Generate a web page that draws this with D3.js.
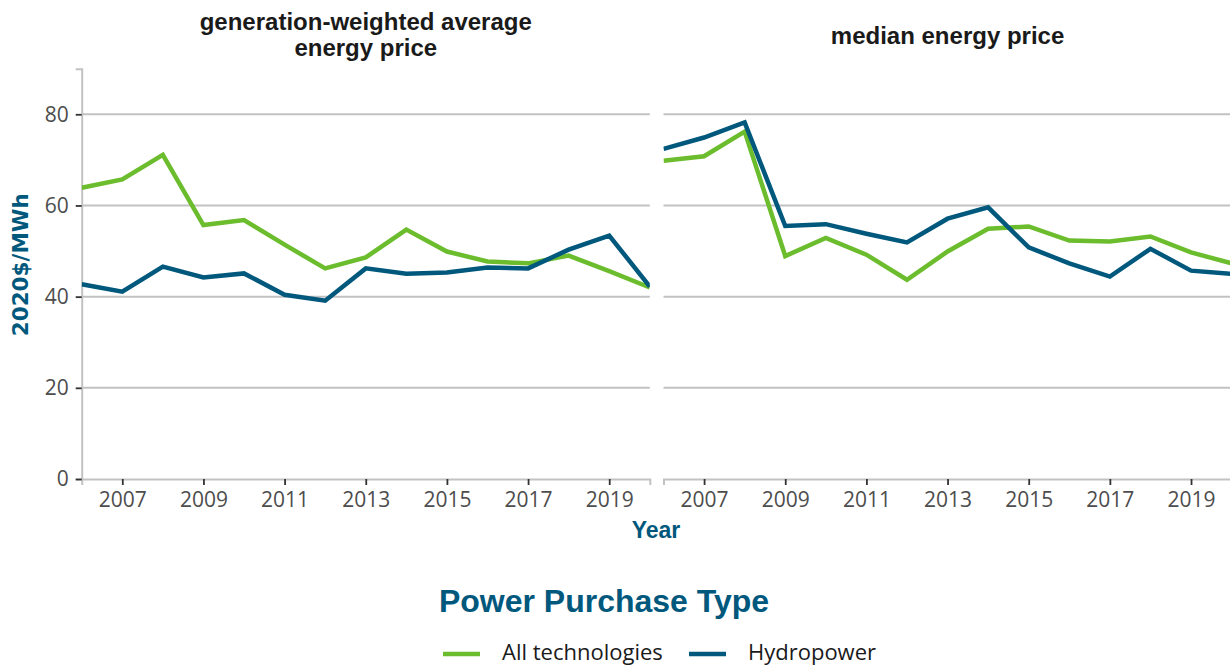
<!DOCTYPE html>
<html>
<head>
<meta charset="utf-8">
<script src="https://d3js.org/d3.v7.min.js"></script>
<style>
  html, body { margin: 0; padding: 0; background: #fff; }
  svg { display: block; }
</style>
</head>
<body>
<div id="chart"></div>
<script>
// Data
const years = [2006, 2007, 2008, 2009, 2010, 2011, 2012, 2013, 2014, 2015, 2016, 2017, 2018, 2019, 2020];
const panelTitles = [['generation-weighted average', 'energy price'], ['median energy price']];
const seriesNames = ['All technologies', 'Hydropower'];

// generation-weighted average
const avgAll   = [63.9, 65.7, 71.1, 55.7, 56.8, 51.4, 46.2, 48.6, 54.7, 49.9, 47.7, 47.3, 49.0, 45.6, 42.0];
const avgHydro = [42.7, 41.1, 46.6, 44.2, 45.1, 40.4, 39.1, 46.2, 45.0, 45.3, 46.4, 46.2, 50.3, 53.4, 42.2];
// median
const medAll   = [69.8, 70.8, 76.2, 48.9, 52.9, 49.2, 43.7, 49.9, 54.9, 55.4, 52.3, 52.1, 53.2, 49.7, 47.3];
const medHydro = [72.4, 74.9, 78.2, 55.5, 55.9, 53.8, 51.9, 57.1, 59.6, 50.8, 47.3, 44.4, 50.5, 45.7, 45.0];

const yTicks = [0, 20, 40, 60, 80];
const xTicks = [2007, 2009, 2011, 2013, 2015, 2017, 2019];

const colors = { 'All technologies': '#6bbd2d', 'Hydropower': '#01587d' };

const width = 1230, height = 667;
const svg = d3.select('#chart').append('svg')
  .attr('width', width).attr('height', height);

const y = d3.scaleLinear().domain([0, 90]).range([479, 68.7]);

const panels = [
  { x0: 81.7, x1: 649.8, data: [avgAll, avgHydro], showY: true },
  { x0: 663.5, x1: 1231.6, data: [medAll, medHydro], showY: false }
];

const fontMain = "'Open Sans', 'Liberation Sans', sans-serif";
const fontBold = "'Liberation Sans', Arial, sans-serif";
const fontTitle = "'Liberation Sans Narrow', 'Liberation Sans', sans-serif";

panels.forEach((p, pi) => {
  const x = d3.scaleLinear().domain([2006, 2020]).range([p.x0, p.x1]);
  const g = svg.append('g');

  const clipId = 'clip' + pi;
  svg.append('clipPath').attr('id', clipId)
    .append('rect').attr('x', p.x0).attr('y', 0)
    .attr('width', p.x1 - p.x0).attr('height', 480);

  // gridlines
  g.selectAll('line.grid').data(yTicks.filter(d => d > 0)).enter().append('line')
    .attr('class', 'grid')
    .attr('x1', p.x0).attr('x2', p.x1)
    .attr('y1', d => y(d)).attr('y2', d => y(d))
    .attr('stroke', '#c2c2c2').attr('stroke-width', 2);

  // x axis
  const xAxis = g.append('g').attr('transform', `translate(0,${y(0)})`)
    .call(d3.axisBottom(x).tickValues(xTicks).tickFormat(d3.format('d')).tickSize(6).tickPadding(7));
  xAxis.select('.domain').attr('stroke', '#c2c2c2').attr('stroke-width', 2);
  xAxis.selectAll('.tick line').attr('stroke', '#333').attr('stroke-width', 1.8);
  xAxis.selectAll('.tick text').attr('fill', '#4d4d4d').attr('font-size', 21)
    .attr('font-family', fontMain);

  if (p.showY) {
    const yAxis = g.append('g').attr('transform', `translate(${p.x0},0)`)
      .call(d3.axisLeft(y).tickValues(yTicks).tickSize(6).tickPadding(7));
    yAxis.select('.domain').attr('stroke', '#c2c2c2').attr('stroke-width', 2);
    yAxis.selectAll('.tick line').attr('stroke', '#333').attr('stroke-width', 1.8);
    yAxis.selectAll('.tick text').attr('fill', '#4d4d4d').attr('font-size', 21)
      .attr('font-family', fontMain);
  }

  // lines
  const line = d3.line().x((d, i) => x(years[i])).y(d => y(d));
  p.data.forEach((vals, si) => {
    g.append('path').datum(vals)
      .attr('clip-path', `url(#${clipId})`)
      .attr('d', line)
      .attr('fill', 'none')
      .attr('stroke', colors[seriesNames[si]])
      .attr('stroke-width', 4.5)
      .attr('stroke-linejoin', 'miter');
  });

  // panel title
  const cx = (p.x0 + p.x1) / 2;
  const lines = panelTitles[pi];
  const startY = lines.length === 2 ? 30 : 44;
  lines.forEach((t, li) => {
    svg.append('text')
      .attr('x', cx).attr('y', startY + li * 26)
      .attr('text-anchor', 'middle')
      .attr('font-family', fontTitle)
      .attr('font-weight', 'bold')
      .attr('font-size', 24)
      .attr('fill', '#1a1a1a')
      .text(t);
  });
});

// y axis title
svg.append('text')
  .attr('transform', `translate(28,${y(47)}) rotate(-90)`)
  .attr('text-anchor', 'middle')
  .attr('font-family', "'DejaVu Sans', sans-serif")
  .attr('font-weight', 'bold')
  .attr('font-size', 21.5)
  .attr('fill', '#01587d')
  .text('2020$/MWh');

// x axis title
svg.append('text')
  .attr('x', 656).attr('y', 538)
  .attr('text-anchor', 'middle')
  .attr('font-family', fontBold)
  .attr('font-weight', 'bold')
  .attr('font-size', 23)
  .attr('fill', '#01587d')
  .text('Year');

// legend
svg.append('text')
  .attr('x', 604).attr('y', 612)
  .attr('text-anchor', 'middle')
  .attr('font-family', fontBold)
  .attr('font-weight', 'bold')
  .attr('font-size', 32)
  .attr('fill', '#01587d')
  .text('Power Purchase Type');

const legendItems = [
  { name: seriesNames[0], lx: 443, tx: 502 },
  { name: seriesNames[1], lx: 689, tx: 748 }
];
const lg = svg.append('g');
legendItems.forEach(d => {
  lg.append('line')
    .attr('x1', d.lx).attr('x2', d.lx + 37)
    .attr('y1', 654).attr('y2', 654)
    .attr('stroke', colors[d.name]).attr('stroke-width', 4.5);
  lg.append('text')
    .attr('x', d.tx).attr('y', 660)
    .attr('font-family', fontMain)
    .attr('font-size', 22)
    .attr('fill', '#1a1a1a')
    .text(d.name);
});
</script>
</body>
</html>
